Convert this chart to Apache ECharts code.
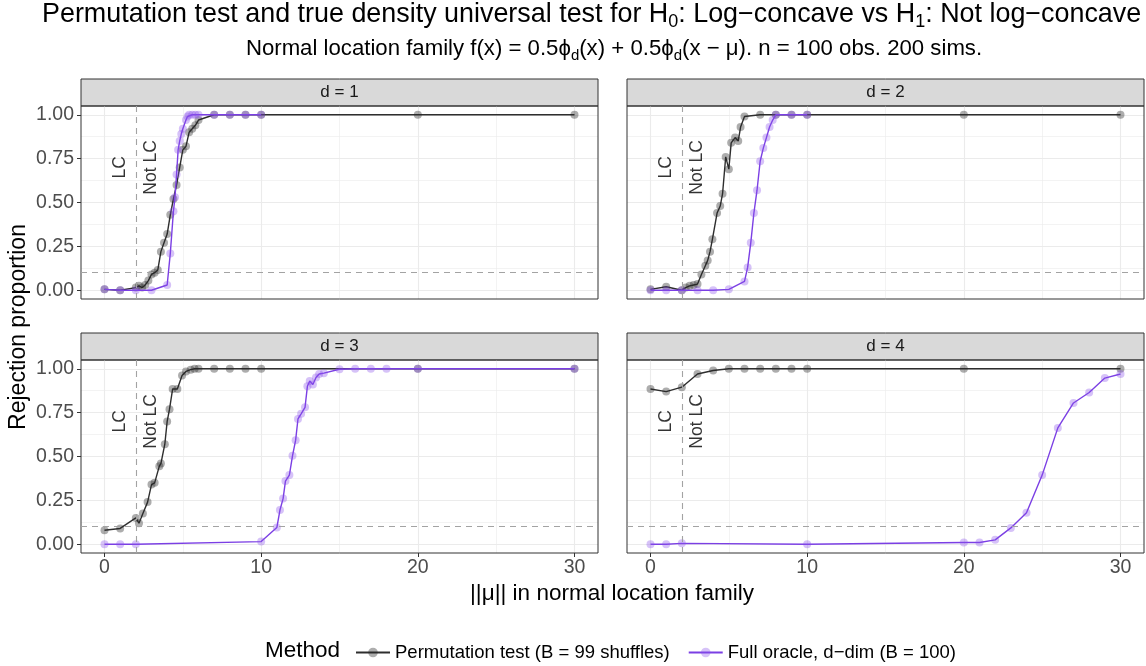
<!DOCTYPE html>
<html><head><meta charset="utf-8">
<script src="https://cdn.jsdelivr.net/npm/echarts@6/dist/echarts.min.js"></script>
<style>html,body{margin:0;padding:0;background:#fff}#c{width:1146px;height:666px}</style>
</head><body><div id="c"></div>
<script>
// ---------------- data ----------------
const panelLabels = ['d = 1', 'd = 2', 'd = 3', 'd = 4'];
const seriesNames = ['Permutation test (B = 99 shuffles)', 'Full oracle, d\u2212dim (B = 100)'];
const xTicks = [0, 10, 20, 30];
const yTicks = [0, 0.25, 0.5, 0.75, 1];
const lcBoundary = 2;
const alphaLevel = 0.1;
const regionLabels = [[1, 0.7, 'LC'], [3, 0.7, 'Not LC']];

const perm_d1 = [[0,0.005],[1,0.0],[2,0.015],[2.2,0.025],[2.4,0.015],[2.6,0.03],[2.8,0.055],[3.0,0.09],[3.2,0.1],[3.4,0.115],[3.6,0.22],[3.8,0.27],[4.0,0.32],[4.2,0.43],[4.4,0.52],[4.6,0.6],[4.8,0.7],[5.0,0.8],[5.2,0.82],[5.4,0.9],[5.6,0.92],[5.8,0.94],[6.0,0.97],[7,1],[8,1],[9,1],[10,1],[20,1],[30,1]];
const oracle_d1 = [[0,0.005],[1,0],[2,0],[3,0],[4,0.03],[4.2,0.21],[4.4,0.45],[4.5,0.53],[4.6,0.66],[4.7,0.8],[4.8,0.85],[4.9,0.89],[5.0,0.92],[5.2,0.97],[5.3,0.99],[5.4,1.0],[5.6,1.0],[5.8,1.0],[6,1],[7,1],[8,1],[9,1],[10,1]];

const perm_d2 = [[0,0.005],[1,0.02],[2,0.0],[2.25,0.015],[2.5,0.025],[2.75,0.03],[3.0,0.035],[3.25,0.09],[3.5,0.14],[3.65,0.17],[3.8,0.22],[3.95,0.29],[4.25,0.44],[4.45,0.48],[4.6,0.55],[4.8,0.76],[5.0,0.69],[5.15,0.84],[5.4,0.87],[5.6,0.85],[5.75,0.93],[6.0,0.99],[7,1],[8,1],[9,1],[10,1],[20,1],[30,1]];
const oracle_d2 = [[0,0],[1,0],[2,0],[3,0],[4,0],[5,0.005],[6,0.05],[6.2,0.13],[6.4,0.27],[6.6,0.44],[6.8,0.57],[7.0,0.735],[7.2,0.81],[7.4,0.87],[7.6,0.93],[7.8,0.97],[8,1.0],[9,1],[10,1]];

const perm_d3 = [[0,0.08],[1,0.09],[2.0,0.15],[2.2,0.12],[2.45,0.175],[2.75,0.24],[3.0,0.34],[3.2,0.35],[3.5,0.445],[3.6,0.46],[3.85,0.57],[4.0,0.7],[4.15,0.77],[4.35,0.885],[4.65,0.885],[4.95,0.962],[5.2,0.985],[5.5,0.995],[5.75,1.0],[6.0,1.0],[7,1],[8,1],[9,1],[10,1],[20,1],[30,1]];
const oracle_d3 = [[0,0],[1,0],[2,0],[10,0.015],[11,0.095],[11.2,0.195],[11.4,0.26],[11.55,0.36],[11.8,0.394],[12,0.504],[12.2,0.593],[12.35,0.714],[12.55,0.743],[12.8,0.78],[12.95,0.9],[13.1,0.93],[13.3,0.91],[13.5,0.95],[13.7,0.97],[14,0.975],[15,0.997],[16,1],[17,1],[18,1],[20,1],[30,1]];

const perm_d4 = [[0,0.885],[1,0.87],[2,0.895],[3,0.97],[4,0.99],[5,1],[6,1],[7,1],[8,1],[9,1],[10,1],[20,1],[30,1]];
const oracle_d4 = [[0,0],[1,0],[2,0.005],[10,0],[20,0.01],[21,0.01],[22,0.025],[23,0.093],[24,0.18],[25,0.394],[26,0.663],[27,0.805],[28,0.865],[29,0.947],[30,0.97]];

const permData = [perm_d1, perm_d2, perm_d3, perm_d4];
const oracleData = [oracle_d1, oracle_d2, oracle_d3, oracle_d4];

// ---------------- layout / style ----------------
const FONT = "'Liberation Sans', Arial, Helvetica, sans-serif";
const PW = 517, PH = 193;
const colL = [81, 627], rowT = [106, 360], stripH = 27;
const xLo = -1.5, xHi = 31.5, yLo = -0.05, yHi = 1.05;
const xMinD = xTicks[0], xMaxD = xTicks[xTicks.length - 1];
const yMinD = yTicks[0], yMaxD = yTicks[yTicks.length - 1];
const inX = (xMinD - xLo) / (xHi - xLo) * PW, inW = (xMaxD - xMinD) / (xHi - xLo) * PW;
const inY = (yHi - yMaxD) / (yHi - yLo) * PH, inH = (yMaxD - yMinD) / (yHi - yLo) * PH;

const C_PERM_LINE = '#2E2E2E', C_PERM_PT = 'rgba(40,40,40,0.38)';
const C_OR_LINE = '#7B3FE4', C_OR_PT = 'rgba(138,80,235,0.35)';
const GRIDC = '#EBEBEB';

const grid = [], xAxis = [], yAxis = [], series = [], graphic = [];
function hiddenAxes(gi, xr, yr) {
  xAxis.push({type: 'value', gridIndex: gi, show: false, min: xr[0], max: xr[1]});
  yAxis.push({type: 'value', gridIndex: gi, show: false, min: yr[0], max: yr[1]});
}

for (let p = 0; p < 4; p++) {
  const col = p % 2, row = Math.floor(p / 2);
  const L = colL[col], T = rowT[row];
  const base = grid.length;
  // strip
  grid.push({left: L, top: T - stripH, width: PW, height: stripH, show: true, backgroundColor: '#D9D9D9', borderColor: '#333333', borderWidth: 1});
  hiddenAxes(base, [0, 1], [0, 1]);
  // horizontal gridlines grid (full width, inner height)
  grid.push({left: L, top: T + inY, width: PW, height: inH});
  xAxis.push({type: 'value', gridIndex: base + 1, show: false, min: 0, max: 1});
  yAxis.push({type: 'value', gridIndex: base + 1, min: yMinD, max: yMaxD, interval: yTicks[1] - yTicks[0],
    axisLine: {show: false},
    axisTick: {show: col === 0, length: 4, lineStyle: {color: '#333333', width: 1}},
    axisLabel: {show: col === 0, margin: 7, color: '#4D4D4D', fontSize: 19.5, fontFamily: FONT, formatter: v => v.toFixed(2)},
    splitLine: {show: true, lineStyle: {color: GRIDC, width: 1.1}},
    minorTick: {show: false, splitNumber: 2},
    minorSplitLine: {show: true, lineStyle: {color: GRIDC, width: 0.6}}});
  // vertical gridlines grid (inner width, full height)
  grid.push({left: L + inX, top: T, width: inW, height: PH});
  xAxis.push({type: 'value', gridIndex: base + 2, min: xMinD, max: xMaxD, interval: xTicks[1] - xTicks[0],
    axisLine: {show: false},
    axisTick: {show: row === 1, length: 4, lineStyle: {color: '#333333', width: 1}},
    axisLabel: {show: row === 1, margin: 5, color: '#4D4D4D', fontSize: 19.5, fontFamily: FONT},
    splitLine: {show: true, lineStyle: {color: GRIDC, width: 1.1}},
    minorTick: {show: false, splitNumber: 2},
    minorSplitLine: {show: true, lineStyle: {color: GRIDC, width: 0.6}}});
  yAxis.push({type: 'value', gridIndex: base + 2, show: false, min: 0, max: 1});
  // data grid (inner)
  grid.push({left: L + inX, top: T + inY, width: inW, height: inH});
  hiddenAxes(base + 3, [xMinD, xMaxD], [yMinD, yMaxD]);
  // outer border
  grid.push({left: L, top: T, width: PW, height: PH, show: true, backgroundColor: 'transparent', borderColor: '#333333', borderWidth: 1, z: 5});
  hiddenAxes(base + 4, [0, 1], [0, 1]);

  // strip label
  graphic.push({type: 'text', x: L + PW / 2, y: T - stripH / 2, z: 10,
    style: {text: panelLabels[p], textAlign: 'center', textVerticalAlign: 'middle', align: 'center', verticalAlign: 'middle', fontSize: 17, fontFamily: FONT, fill: '#1A1A1A'}});

  // reference lines
  series.push({type: 'line', xAxisIndex: base + 2, yAxisIndex: base + 2, data: [], silent: true,
    markLine: {silent: true, symbol: 'none', animation: false, label: {show: false},
      lineStyle: {type: [6, 5], color: '#A3A3A3', width: 1.1}, data: [{xAxis: lcBoundary}]}});
  series.push({type: 'line', xAxisIndex: base + 1, yAxisIndex: base + 1, data: [], silent: true,
    markLine: {silent: true, symbol: 'none', animation: false, label: {show: false},
      lineStyle: {type: [6, 5], color: '#A3A3A3', width: 1.1}, data: [{yAxis: alphaLevel}]}});

  // data
  series.push({name: seriesNames[0], type: 'line', xAxisIndex: base + 3, yAxisIndex: base + 3, data: permData[p],
    symbol: 'circle', symbolSize: 8, clip: false, animation: false, z: 3,
    lineStyle: {color: C_PERM_LINE, width: 1.4}, itemStyle: {color: C_PERM_PT, borderWidth: 0}});
  series.push({name: seriesNames[1], type: 'line', xAxisIndex: base + 3, yAxisIndex: base + 3, data: oracleData[p],
    symbol: 'circle', symbolSize: 8, clip: false, animation: false, z: 4,
    lineStyle: {color: C_OR_LINE, width: 1.4}, itemStyle: {color: C_OR_PT, borderWidth: 0}});
  // LC / Not LC labels
  series.push({type: 'scatter', xAxisIndex: base + 3, yAxisIndex: base + 3, data: regionLabels, symbolSize: 0, silent: true, animation: false, z: 6,
    label: {show: true, position: 'inside', rotate: 90, formatter: d => d.data[2], color: '#000', fontSize: 17.5, fontFamily: FONT}});
}

// titles
graphic.push({type: 'text', x: 42, y: 15, style: {
  text: '{n|Permutation test and true density universal test for H}{s|0}{n|: Log\u2212concave vs H}{s|1}{n|: Not log\u2212concave}',
  textVerticalAlign: 'middle', verticalAlign: 'middle', fill: '#000', fontFamily: FONT,
  rich: {n: {fontSize: 26.9, lineHeight: 32, fontFamily: FONT, fill: '#000', color: '#000'}, s: {fontSize: 18, lineHeight: 16, verticalAlign: 'bottom', fontFamily: FONT, fill: '#000', color: '#000'}}}});
graphic.push({type: 'text', x: 614, y: 49, style: {
  text: '{n|Normal location family f(x) = 0.5\u03D5}{s|d}{n|(x) + 0.5\u03D5}{s|d}{n|(x \u2212 \u03BC). n = 100 obs. 200 sims.}',
  textAlign: 'center', align: 'center', textVerticalAlign: 'middle', verticalAlign: 'middle', fill: '#000', fontFamily: FONT,
  rich: {n: {fontSize: 22.2, lineHeight: 28, fontFamily: FONT, fill: '#000', color: '#000'}, s: {fontSize: 15, lineHeight: 13, verticalAlign: 'bottom', fontFamily: FONT, fill: '#000', color: '#000'}}}});
// axis titles
graphic.push({type: 'text', x: 612, y: 594, style: {text: '||\u03BC|| in normal location family', textAlign: 'center', align: 'center', textVerticalAlign: 'middle', verticalAlign: 'middle', fontSize: 22.5, fontFamily: FONT, fill: '#000'}});
graphic.push({type: 'text', x: 19, y: 327, rotation: Math.PI / 2, style: {text: 'Rejection proportion', textAlign: 'center', align: 'center', textVerticalAlign: 'middle', verticalAlign: 'middle', fontSize: 23, fontFamily: FONT, fill: '#000'}});
// legend title
graphic.push({type: 'text', x: 265, y: 651, style: {text: 'Method', textVerticalAlign: 'middle', verticalAlign: 'middle', fontSize: 22.5, fontFamily: FONT, fill: '#000'}});

const chart = echarts.init(document.getElementById('c'), null, {renderer: 'canvas'});
chart.setOption({
  animation: false,
  backgroundColor: '#ffffff',
  grid, xAxis, yAxis, series, graphic,
  legend: {data: seriesNames, left: 350, top: 638, itemWidth: 34, itemHeight: 12, itemGap: 18,
    textStyle: {fontSize: 18.5, color: '#000', fontFamily: FONT}}
});
</script></body></html>
